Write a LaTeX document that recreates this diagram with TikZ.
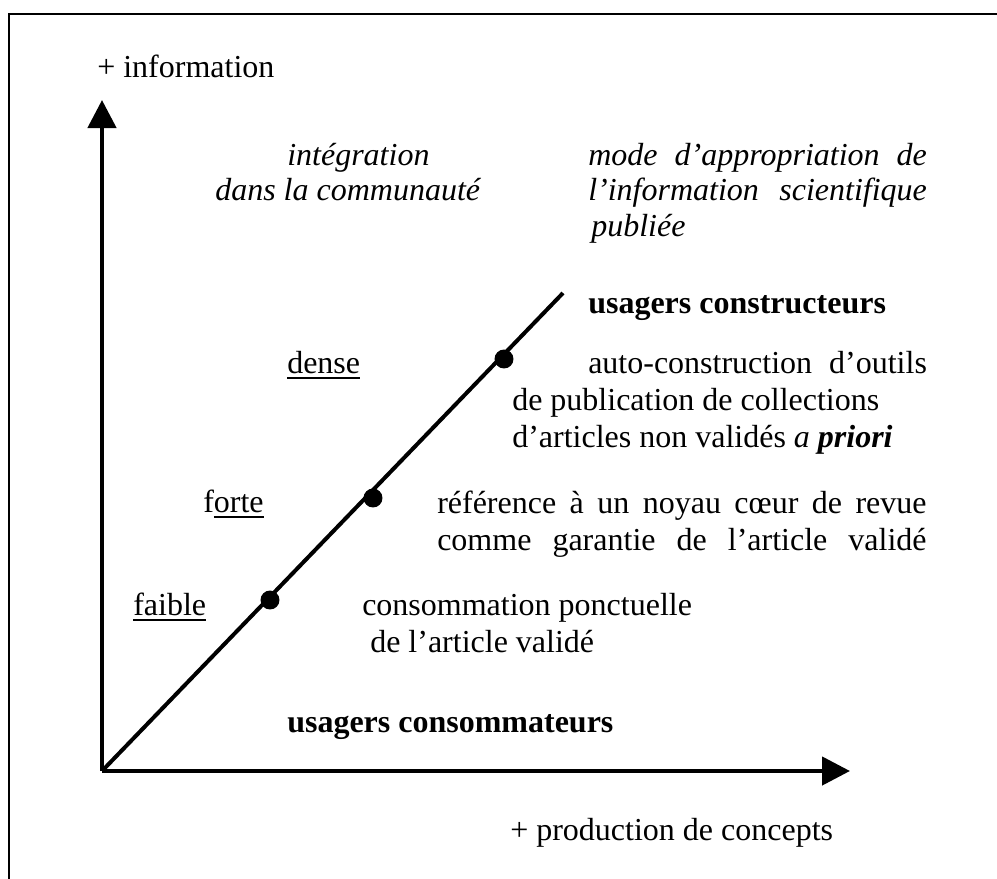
\documentclass[tikz,border=0pt]{standalone}
\usepackage{fontspec}
\setmainfont{Liberation Serif}
\usetikzlibrary{arrows.meta}
\newsavebox\ulbox
\newcommand\ulword[1]{\sbox\ulbox{#1}\rlap{\rule[-4.2pt]{\wd\ulbox}{1.4pt}}\usebox\ulbox}
\begin{document}
\begin{tikzpicture}[x=0.75pt,y=-0.75pt,
  frame/.style={line width=2.2pt},
  axis/.style={line width=3.4pt,-{Triangle[length=21pt,width=21pt]}},
  diag/.style={line width=3pt},
  dot/.style={circle,fill=black,inner sep=0pt,minimum size=14.2pt},
  txt/.style={anchor=base west,inner sep=0pt,font=\fontsize{24}{27.6}\selectfont},
  ital/.style={txt,font=\fontsize{24}{27.6}\selectfont\itshape},
  bld/.style={txt,font=\fontsize{24}{27.6}\selectfont\bfseries}]
\useasboundingbox (0,0) rectangle (997,879);
% open frame: left and top sides
\draw[frame] (9,890) -- (9,14) -- (1005,14);
% axes
\coordinate (O) at (102,771);
\coordinate (Ytip) at (102,100);
\coordinate (Xtip) at (850,771);
\coordinate (Dend) at (563,293);
\draw[axis] (O) -- (Ytip);
\draw[axis] (O) -- (Xtip);
\draw[diag] (O) -- (Dend);
\node[dot] (d1) at (270,600) {};
\node[dot] (d2) at (373,498) {};
\node[dot] (d3) at (504,359) {};
% axis labels
\node[txt] (yl) at (97,77) {+ information};
\node[txt] (xl) at (510,840) {+ production de concepts};
% column headings
\node[ital] (h1) at (287,165) {intégration};
\node[ital] (h2) at (215,200) {dans la communauté};
\node[ital] (m1) at (588,165) {\makebox[254pt][s]{mode d’appropriation de}};
\node[ital] (m2) at (588,200) {\makebox[254pt][s]{l’information scientifique}};
\node[ital] (m3) at (591,236) {publiée};
% users
\node[bld] (uc) at (588,313) {usagers constructeurs};
\node[bld] (uk) at (287,732) {usagers consommateurs};
% levels of integration
\node[txt] (dense) at (287,373) {\ulword{dense}};
\node[txt] (forte) at (203,512) {f\ulword{orte}};
\node[txt] (faible) at (133,615) {\ulword{faible}};
% modes of appropriation
\node[txt] (a1) at (588,373) {\makebox[254pt][s]{auto-construction d’outils}};
\node[txt] (a2) at (512,410) {de publication de collections};
\node[txt] (a3) at (512,447) {d’articles non validés \textit{a \textbf{priori}}};
\node[txt] (r1) at (437,513) {\makebox[367pt][s]{référence à un noyau cœur de revue}};
\node[txt] (r2) at (437,550) {\makebox[367pt][s]{comme garantie de l’article validé}};
\node[txt] (c1) at (362,615) {consommation ponctuelle};
\node[txt] (c2) at (370,652) {de l’article validé};
\end{tikzpicture}
\end{document}
